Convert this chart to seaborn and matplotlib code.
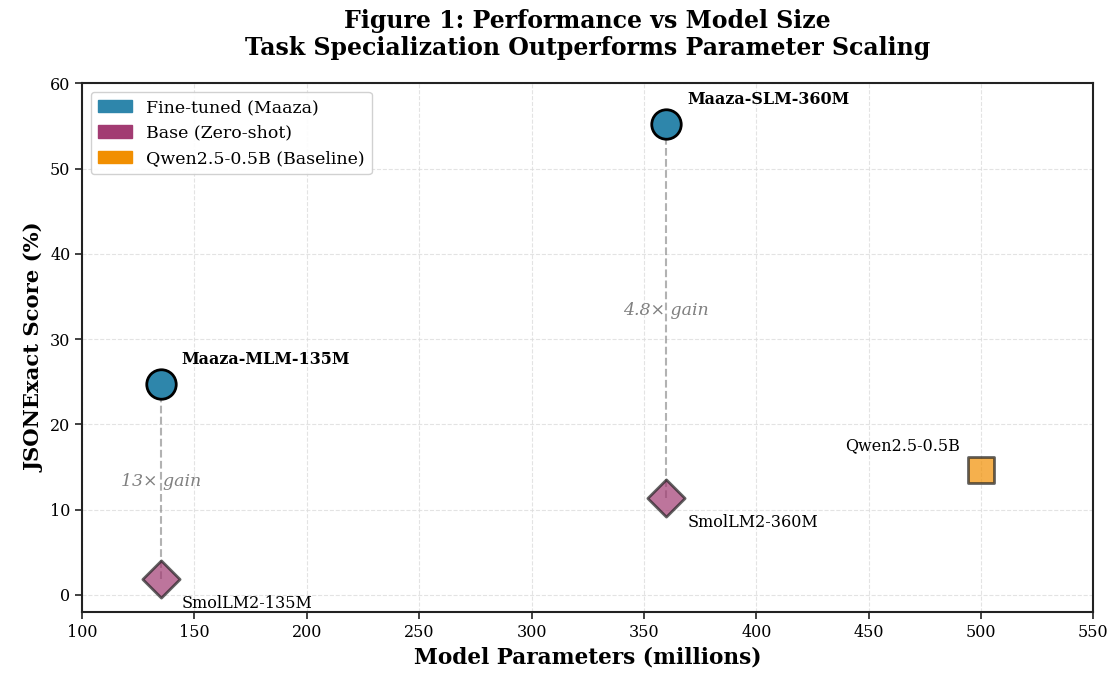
import matplotlib.pyplot as plt
import matplotlib.patches as mpatches
import seaborn as sns
import pandas as pd

# dados
modelos = ["Maaza-MLM-135M", "Maaza-SLM-360M", "SmolLM2-135M", "SmolLM2-360M", "Qwen2.5-0.5B"]
parametros = [135, 360, 135, 360, 500]
scores = [24.7, 55.2, 1.9, 11.4, 14.6]
grupos = ["Fine-tuned (Maaza)", "Fine-tuned (Maaza)", "Base (Zero-shot)", "Base (Zero-shot)",
          "Qwen2.5-0.5B (Baseline)"]
ganhos = ["13× gain", "4.8× gain"]

cores = {"Fine-tuned (Maaza)": "#2E86AB", "Base (Zero-shot)": "#A23B72",
         "Qwen2.5-0.5B (Baseline)": "#F18F01"}

df = pd.DataFrame({"modelo": modelos, "params": parametros, "score": scores, "grupo": grupos})

sns.set_style("whitegrid")
plt.rcParams["font.family"] = ["DejaVu Serif", "DejaVu Sans"]
plt.rcParams.update({
    "text.color": "black", "axes.labelcolor": "black",
    "xtick.color": "#333333", "ytick.color": "#333333",
    "xtick.labelcolor": "black", "ytick.labelcolor": "black",
    "xtick.bottom": True, "ytick.left": True,
    "xtick.major.size": 5, "ytick.major.size": 5,
    "xtick.major.width": 1.3, "ytick.major.width": 1.3,
})

fig, ax = plt.subplots(figsize=(11.1, 6.77), dpi=100)

ft = df[df["grupo"] == "Fine-tuned (Maaza)"]
base = df[df["grupo"] == "Base (Zero-shot)"]
qwen = df[df["grupo"] == "Qwen2.5-0.5B (Baseline)"]

# linhas de ganho entre base e fine-tuned
for (_, b), (_, f), g in zip(base.iterrows(), ft.iterrows(), ganhos):
    ax.plot([b["params"], f["params"]], [b["score"], f["score"]], color="gray",
            linestyle="--", linewidth=1.5, alpha=0.6, zorder=1)
    ax.text(f["params"], (b["score"] + f["score"]) / 2, g, ha="center", va="center",
            fontsize=12.5, style="italic", color="gray", zorder=2)

sns.scatterplot(data=ft, x="params", y="score", color=cores["Fine-tuned (Maaza)"], marker="o",
                s=450, edgecolor="black", linewidth=2, ax=ax, zorder=3, legend=False)
sns.scatterplot(data=base, x="params", y="score", color=cores["Base (Zero-shot)"], marker="D",
                s=360, edgecolor="#222222", linewidth=2, alpha=0.7, ax=ax, zorder=3, legend=False)
sns.scatterplot(data=qwen, x="params", y="score", color=cores["Qwen2.5-0.5B (Baseline)"], marker="s",
                s=340, edgecolor="#222222", linewidth=2, alpha=0.7, ax=ax, zorder=3, legend=False)

# rótulos
for _, r in ft.iterrows():
    ax.annotate(r["modelo"], (r["params"], r["score"]), xytext=(15, 18), textcoords="offset points",
                ha="left", va="center", fontsize=11.5, fontweight="bold")
for _, r in base.iterrows():
    ax.annotate(r["modelo"], (r["params"], r["score"]), xytext=(15, -18), textcoords="offset points",
                ha="left", va="center", fontsize=11.5)
for _, r in qwen.iterrows():
    ax.annotate(r["modelo"], (r["params"], r["score"]), xytext=(-15, 18), textcoords="offset points",
                ha="right", va="center", fontsize=11.5)

ax.set_xlim(100, 550)
ax.set_ylim(-2, 60)
ax.set_xticks(range(100, 551, 50))
ax.set_yticks(range(0, 61, 10))
ax.tick_params(axis="both", labelsize=11.5, bottom=True, left=True, length=5, width=1.3)
ax.grid(True, linestyle="--", color="#dddddd", alpha=0.8)
for sp in ax.spines.values():
    sp.set_color("#222222")
    sp.set_linewidth(1.5)

ax.set_xlabel("Model Parameters (millions)", fontsize=15.6, fontweight="bold")
ax.set_ylabel("JSONExact Score (%)", fontsize=15.2, fontweight="bold")
ax.set_title("Figure 1: Performance vs Model Size\nTask Specialization Outperforms Parameter Scaling",
             fontsize=17, fontweight="bold", pad=20)

handles = [mpatches.Patch(color=c, label=g) for g, c in cores.items()]
ax.legend(handles=handles, loc="upper left", fontsize=12.5, frameon=True, framealpha=0.9)

plt.subplots_adjust(left=0.074, right=0.985, top=0.877, bottom=0.096)
plt.savefig("out.png")
plt.close()
